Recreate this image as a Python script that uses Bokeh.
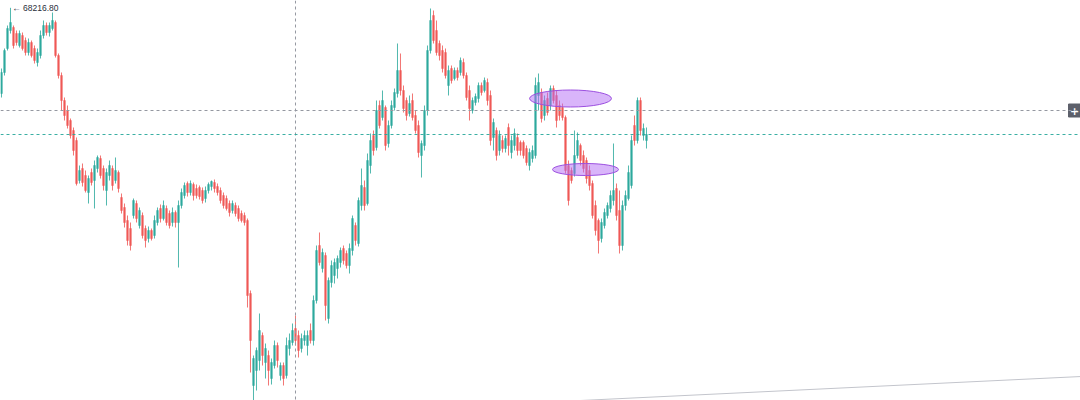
from bokeh.plotting import figure
from bokeh.models import Range1d, Span, ColumnDataSource
from bokeh.embed import file_html
from bokeh.resources import INLINE
from bokeh.core.properties import value

opens = [
    67360, 67570, 67810, 67990, 68020, 67960, 67840, 67940, 67890, 67770,
    67870, 67810, 67670, 67740, 67940, 68040, 67970, 68010, 68070, 67740,
    67540, 67290, 67190, 67090, 66990, 66890, 66490, 66610, 66540, 66370,
    66570, 66490, 66610, 66710, 66610, 66390, 66540, 66610, 66490, 66570,
    66320, 66220, 66090, 66010, 66140, 66260, 66040, 66140, 66010, 65910,
    65990, 65940, 66070, 66210, 66110, 66210, 66160, 66070, 66170, 66070,
    66240, 66340, 66460, 66370, 66450, 66410, 66420, 66390, 66310, 66390,
    66430, 66470, 66430, 66390, 66340, 66310, 66260, 66190, 66240, 66210,
    66160, 66140, 66090, 65360, 64440, 64590, 64690, 64940, 64670, 64740,
    64510, 64640, 64840, 64540, 64640, 64540, 64810, 64870, 65010, 64940,
    64810, 64890, 64840, 64990, 64890, 65290, 65840, 65610, 65740, 65110,
    65470, 65540, 65610, 65670, 65810, 65760, 65640, 65790, 66040, 65860,
    66240, 66420, 66260, 66640, 66940, 66820, 67240, 67120, 67220, 66860,
    67040, 67220, 67360, 67590, 67390, 67290, 67160, 67290, 67140, 67040,
    66740, 66840, 67190, 67790, 68140, 67990, 67860, 67790, 67770, 67440,
    67610, 67510, 67590, 67570, 67670, 67540, 67390, 67190, 67270, 67310,
    67440, 67390, 67470, 67340, 66920, 66990, 66790, 66890, 66810, 67020,
    66770, 66840, 66920, 66870, 66870, 66810, 66640, 66710, 66740, 67340,
    67370, 67140, 67310, 67240, 67410, 67340, 67240, 67220, 67120, 66640,
    66590, 66560, 66740, 66840, 66740, 66690, 66590, 66460, 66240, 66090,
    65910, 66040, 66140, 66210, 66290, 66410, 66190, 65840, 66240, 66310,
    66440, 67040, 66890, 67290, 66940, 66890,
]
highs = [
    67610, 67810, 68040, 68216.8, 68040, 67990, 67990, 67970, 67920, 67910,
    67890, 67840, 67810, 67990, 68090, 68070, 68070, 68170, 68090, 67760,
    67570, 67320, 67240, 67110, 67020, 66920, 66640, 66660, 66590, 66540,
    66610, 66690, 66740, 66740, 66640, 66610, 66690, 66640, 66720, 66590,
    66360, 66260, 66140, 66070, 66310, 66290, 66220, 66170, 66040, 66030,
    66010, 66140, 66220, 66250, 66290, 66240, 66190, 66220, 66190, 66290,
    66410, 66470, 66480, 66490, 66470, 66450, 66440, 66420, 66430, 66470,
    66490, 66500, 66460, 66420, 66370, 66340, 66290, 66290, 66270, 66240,
    66190, 66170, 66110, 65390, 64740, 64820, 65160, 64970, 64860, 64790,
    64710, 64890, 64870, 64670, 64670, 64920, 64960, 65060, 65140, 64990,
    64960, 64990, 64990, 65060, 65340, 65840, 65970, 65810, 65770, 65520,
    65690, 65710, 65740, 65820, 65840, 65790, 65860, 66140, 66070, 66320,
    66610, 66490, 66760, 66960, 66990, 67290, 67290, 67390, 67240, 67090,
    67290, 67410, 67860, 67760, 67440, 67320, 67340, 67360, 67190, 67090,
    66890, 67240, 67840, 68210, 68190, 68090, 67890, 67840, 67810, 67640,
    67640, 67620, 67620, 67720, 67710, 67570, 67440, 67320, 67360, 67470,
    67470, 67520, 67510, 67390, 67110, 67020, 66990, 66940, 66940, 67060,
    66940, 67010, 66960, 66890, 66890, 66840, 66810, 66840, 67520, 67560,
    67410, 67340, 67370, 67440, 67440, 67390, 67290, 67260, 67140, 66690,
    66620, 66990, 66970, 66860, 66790, 66720, 66640, 66490, 66290, 66110,
    66110, 66210, 66270, 66390, 66860, 66460, 66390, 66290, 66390, 66640,
    66940, 67140, 67320, 67320, 67060, 67020,
]
lows = [
    67320, 67540, 67790, 67960, 67810, 67840, 67820, 67790, 67740, 67740,
    67720, 67660, 67630, 67710, 67910, 67940, 67930, 67990, 67720, 67510,
    67190, 67090, 67010, 66910, 66740, 66440, 66460, 66430, 66370, 66260,
    66440, 66210, 66570, 66510, 66390, 66240, 66490, 66390, 66460, 66370,
    66160, 66020, 65840, 65790, 66110, 66070, 66010, 65910, 65820, 65870,
    65890, 65910, 66040, 66070, 66090, 66040, 66010, 66030, 66020, 65620,
    66210, 66310, 66330, 66340, 66290, 66310, 66300, 66260, 66270, 66360,
    66390, 66370, 66340, 66260, 66210, 66190, 66130, 66160, 66130, 66080,
    66070, 66040, 65220, 64570, 64270, 64390, 64590, 64640, 64510, 64440,
    64450, 64610, 64620, 64490, 64440, 64510, 64740, 64840, 64840, 64720,
    64770, 64840, 64740, 64860, 64840, 65260, 65640, 65570, 65090, 65060,
    65420, 65460, 65510, 65620, 65650, 65610, 65560, 65740, 65840, 65830,
    66190, 66190, 66240, 66560, 66740, 66790, 67010, 67090, 66790, 66820,
    67010, 67190, 67320, 67340, 67170, 67090, 67130, 67090, 66960, 66720,
    66520, 66790, 67140, 67760, 67860, 67740, 67690, 67570, 67510, 67340,
    67460, 67490, 67490, 67540, 67510, 67290, 67090, 67160, 67240, 67270,
    67340, 67370, 67240, 66840, 66790, 66690, 66740, 66770, 66770, 66740,
    66710, 66790, 66740, 66740, 66710, 66640, 66590, 66670, 66710, 67190,
    67070, 67090, 67140, 67190, 67260, 67020, 67090, 67090, 66560, 66240,
    66460, 66530, 66710, 66640, 66570, 66460, 66390, 66110, 65940, 65760,
    65870, 66010, 66110, 66170, 66240, 66090, 65760, 65790, 66190, 66290,
    66410, 66840, 66860, 66940, 66890, 66810,
]
closes = [
    67570, 67790, 68010, 68070, 67840, 67870, 67960, 67810, 67770, 67870,
    67740, 67690, 67770, 67940, 68040, 67970, 68040, 68090, 67740, 67540,
    67290, 67140, 67040, 66940, 66790, 66460, 66590, 66470, 66390, 66510,
    66470, 66640, 66720, 66540, 66440, 66570, 66640, 66440, 66590, 66410,
    66190, 66070, 65890, 65840, 66290, 66110, 66190, 65940, 65890, 65990,
    65910, 66090, 66190, 66110, 66240, 66070, 66040, 66170, 66070, 66240,
    66370, 66440, 66370, 66460, 66340, 66340, 66330, 66290, 66390, 66450,
    66480, 66410, 66370, 66290, 66240, 66210, 66170, 66260, 66160, 66110,
    66090, 66070, 65340, 64890, 64710, 64790, 64990, 64740, 64810, 64590,
    64670, 64840, 64690, 64640, 64510, 64840, 64890, 64990, 64890, 64790,
    64910, 64940, 64940, 64890, 65290, 65790, 65670, 65770, 65240, 65490,
    65640, 65670, 65710, 65790, 65690, 65640, 65810, 66110, 65890, 66290,
    66440, 66240, 66690, 66890, 66790, 67190, 67040, 67290, 66840, 67040,
    67240, 67370, 67590, 67390, 67210, 67140, 67260, 67120, 66990, 66770,
    66860, 67190, 67790, 68090, 67890, 67770, 67740, 67610, 67540, 67590,
    67490, 67590, 67520, 67690, 67540, 67320, 67210, 67290, 67330, 67440,
    67370, 67490, 67290, 66890, 67070, 66740, 66940, 66810, 66910, 66840,
    66890, 66960, 66790, 66790, 66740, 66670, 66770, 66790, 67440, 67470,
    67110, 67290, 67170, 67410, 67290, 67090, 67140, 67120, 66590, 66290,
    66490, 66740, 66890, 66690, 66610, 66510, 66440, 66140, 65990, 65890,
    66070, 66170, 66240, 66340, 66390, 66140, 65840, 66240, 66340, 66570,
    66890, 66890, 67290, 66990, 67010, 66950,
]

crosshair_index = 98
crosshair_price = 67190
trend_x = [193, 360]
trend_y = [64290, 64530]
zones = [
    {"x": 189.67, "y": 67310, "w": 27.3, "h": 170},
    {"x": 194.67, "y": 66600, "w": 22.0, "h": 120},
]

UP = "#26a69a"
DOWN = "#ef5350"

n = len(closes)
idx = list(range(n))
colors = [UP if c >= o else DOWN for o, c in zip(opens, closes)]
tops = [max(o, c) for o, c in zip(opens, closes)]
bots = [min(o, c) for o, c in zip(opens, closes)]
src = ColumnDataSource(dict(x=idx, o=opens, h=highs, l=lows, c=closes,
                            top=tops, bot=bots, color=colors))

p = figure(width=1080, height=400, output_backend="svg", toolbar_location=None,
           x_range=Range1d(-1/3, 359.667), y_range=Range1d(64290, 68290),
           min_border=0, background_fill_color="white", border_fill_color="white")
p.xaxis.visible = False
p.yaxis.visible = False
p.xgrid.visible = False
p.ygrid.visible = False
p.outline_line_color = None

# crosshair & price lines
p.add_layout(Span(location=crosshair_index, dimension="height", line_color="#9598a1",
                  line_dash="3 3", line_width=1))
p.add_layout(Span(location=crosshair_price, dimension="width", line_color="#9598a1",
                  line_dash="3 3", line_width=1))
p.add_layout(Span(location=closes[-1], dimension="width", line_color=UP,
                  line_dash="3 3", line_width=1, line_alpha=0.9))

# trend line
p.line(trend_x, trend_y, line_color="#c3c5cc", line_width=1)

# candles
p.segment(x0="x", y0="h", x1="x", y1="l", color="color", line_width=1, source=src, alpha=0.8)
p.vbar(x="x", top="top", bottom="bot", width=0.6, fill_color="color", line_color="color",
       line_width=0.5, source=src, alpha=0.8)

# highlighted zones
for z in zones:
    p.ellipse(x=z["x"], y=z["y"], width=z["w"], height=z["h"], fill_color="#b36bf5",
              fill_alpha=0.5, line_color="#9c4fe0", line_width=1)

# max label
imax = max(range(n), key=lambda i: highs[i])
p.text(x=[imax + 0.55], y=[highs[imax]], text=["\u2190 " + f"{highs[imax]:.2f}"],
       text_font=value("Liberation Sans"), text_font_size="8.5px", text_color="#2a2e39",
       text_baseline="middle", text_align="left")

# plus button at crosshair price
p.rect(x=[357.67], y=[crosshair_price], width=12, height=13, width_units="screen",
       height_units="screen", fill_color="#5d606b", line_color="#5d606b")
p.text(x=[357.67], y=[crosshair_price], text=["+"], text_font=value("DejaVu Sans"),
       text_font_size="11px", text_color="white", text_align="center", text_baseline="middle",
       text_font_style="bold")

open("out.html", "w").write(file_html(p, INLINE))
